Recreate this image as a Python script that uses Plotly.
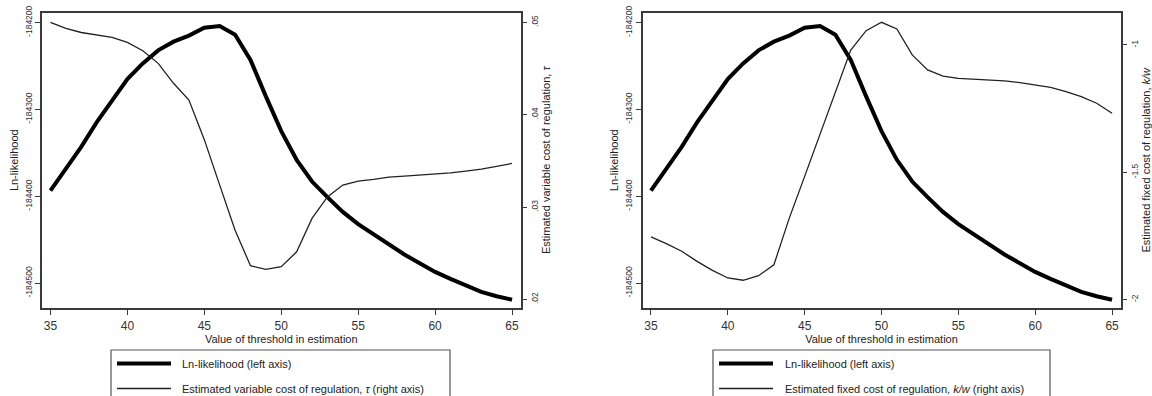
import plotly.graph_objects as go

W, H = 1152, 396

threshold = list(range(35, 66))

ln_likelihood = [
    -184393.5, -184368, -184343, -184315, -184289, -184265, -184247, -184232,
    -184222, -184215, -184206, -184204, -184214, -184243, -184285, -184325,
    -184358, -184383, -184401, -184418, -184432, -184444, -184456, -184467,
    -184477, -184487, -184495, -184503, -184510, -184515, -184519,
]

tau = [
    0.0500, 0.04935, 0.0489, 0.04867, 0.04838, 0.04783, 0.04693, 0.04556,
    0.0434, 0.04159, 0.0373, 0.03238, 0.0275, 0.02365, 0.02325, 0.02354,
    0.02516, 0.02877, 0.0311, 0.03238, 0.0328, 0.0330, 0.03325, 0.03336,
    0.03347, 0.03357, 0.0337, 0.0339, 0.0341, 0.0344, 0.03473,
]

kw = [
    -1.754, -1.780, -1.810, -1.850, -1.885, -1.915, -1.924, -1.906,
    -1.863, -1.680, -1.516, -1.353, -1.190, -1.020, -0.944, -0.911,
    -0.937, -1.039, -1.098, -1.122, -1.131, -1.135, -1.137, -1.141,
    -1.148, -1.157, -1.167, -1.183, -1.203, -1.229, -1.268,
]

x_ticks = [35, 40, 45, 50, 55, 60, 65]
ll_ticks = [-184200, -184300, -184400, -184500]
ll_labels = ["-184200", "-184300", "-184400", "-184500"]
tau_ticks = [0.05, 0.04, 0.03, 0.02]
tau_labels = [".05", ".04", ".03", ".02"]
kw_ticks = [-1, -1.5, -2]
kw_labels = ["-1", "-1.5", "-2"]

x_title = "Value of threshold in estimation"
ll_title = "Ln-likelihood"
tau_title = "Estimated variable cost of regulation, <i>τ</i>"
kw_title = "Estimated fixed cost of regulation, <i>k/w</i>"
legend_ll = "Ln-likelihood (left axis)"
legend_tau = "Estimated variable cost of regulation, <i>τ</i> (right axis)"
legend_kw = "Estimated fixed cost of regulation, <i>k/w</i> (right axis)"

FONT = "Liberation Sans, Arial, sans-serif"
AX = "#3a3a3a"

def px(x):
    return x / W

def py(y):
    return 1 - y / H

fig = go.Figure()

thick = dict(color="black", width=4)
thin = dict(color="#222222", width=1.3)

fig.add_trace(go.Scatter(x=threshold, y=tau, mode="lines", line=thin,
                         xaxis="x", yaxis="y3", showlegend=False))
fig.add_trace(go.Scatter(x=threshold, y=ln_likelihood, mode="lines", line=thick,
                         xaxis="x", yaxis="y", showlegend=False))
fig.add_trace(go.Scatter(x=threshold, y=kw, mode="lines", line=thin,
                         xaxis="x2", yaxis="y4", showlegend=False))
fig.add_trace(go.Scatter(x=threshold, y=ln_likelihood, mode="lines", line=thick,
                         xaxis="x2", yaxis="y2", showlegend=False))

ydom = [py(307.5), py(13)]
xr = [34.45, 65.55]
llr = [-184528, -184189]

common_x = dict(range=xr, tickvals=x_ticks, ticks="outside", ticklen=6,
                tickwidth=1.3, tickcolor=AX, showline=True, linecolor=AX,
                linewidth=1.6, mirror=True, showgrid=False, zeroline=False,
                tickfont=dict(size=12, color="#333", family=FONT),
                title=dict(text=x_title, font=dict(size=11, color="#222", family=FONT),
                           standoff=0),
                automargin=False)
common_y = dict(ticks="outside", ticklen=5, tickwidth=1.3, tickcolor=AX,
                showline=True, linecolor=AX, linewidth=1.6, showgrid=False,
                zeroline=False, tickangle=-90,
                tickfont=dict(size=8.5, color="#333", family=FONT),
                automargin=False)

fig.update_layout(
    width=W, height=H,
    margin=dict(l=0, r=0, t=0, b=0),
    paper_bgcolor="white", plot_bgcolor="white",
    font=dict(family=FONT, color="#222"),
    showlegend=False,
    xaxis=dict(domain=[px(42), px(520.5)], anchor="y", **common_x),
    xaxis2=dict(domain=[px(642.5), px(1120.5)], anchor="y2", **common_x),
    yaxis=dict(domain=ydom, anchor="x", range=llr, tickvals=ll_ticks, ticktext=ll_labels,
               title=dict(text=ll_title, font=dict(size=11, family=FONT), standoff=3),
               side="left", **common_y),
    yaxis2=dict(domain=ydom, anchor="x2", range=llr, tickvals=ll_ticks, ticktext=ll_labels,
                title=dict(text=ll_title, font=dict(size=11, family=FONT), standoff=3),
                side="left", **common_y),
    yaxis3=dict(overlaying="y", anchor="x", side="right", range=[0.01913, 0.05101],
                tickvals=tau_ticks, ticktext=tau_labels,
                title=dict(text=tau_title, font=dict(size=11, family=FONT), standoff=4),
                **common_y),
    yaxis4=dict(overlaying="y2", anchor="x2", side="right", range=[-2.031, -0.8745],
                tickvals=kw_ticks, ticktext=kw_labels,
                title=dict(text=kw_title, font=dict(size=11, family=FONT), standoff=4),
                **common_y),
)

# Legend boxes drawn manually
shapes = []
annotations = []
for (bx0, bx1, lx0, lx1, tx, label2) in [
    (111, 450, 117, 171, 180, legend_tau),
    (713, 1050, 719, 773, 783, legend_kw),
]:
    shapes.append(dict(type="rect", xref="paper", yref="paper",
                       x0=px(bx0), x1=px(bx1), y0=py(405), y1=py(350),
                       line=dict(color="#555", width=1.2), fillcolor="white"))
    shapes.append(dict(type="line", xref="paper", yref="paper",
                       x0=px(lx0), x1=px(lx1), y0=py(363.5), y1=py(363.5),
                       line=dict(color="black", width=4)))
    shapes.append(dict(type="line", xref="paper", yref="paper",
                       x0=px(lx0), x1=px(lx1), y0=py(388.5), y1=py(388.5),
                       line=dict(color="#222", width=1.3)))
    annotations.append(dict(xref="paper", yref="paper", x=px(tx), y=py(363.5),
                            text=legend_ll, showarrow=False, xanchor="left",
                            yanchor="middle", font=dict(size=11, color="#222", family=FONT)))
    annotations.append(dict(xref="paper", yref="paper", x=px(tx), y=py(388.5),
                            text=label2, showarrow=False, xanchor="left",
                            yanchor="middle", font=dict(size=11, color="#222", family=FONT)))

fig.update_layout(shapes=shapes, annotations=annotations)

fig.write_html("out.html")
